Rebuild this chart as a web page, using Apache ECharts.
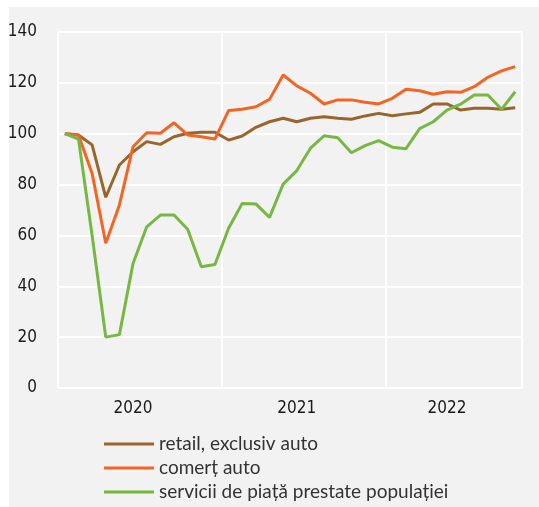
<!DOCTYPE html>
<html>
<head>
<meta charset="utf-8">
<script src="https://cdn.jsdelivr.net/npm/echarts@6/dist/echarts.min.js"></script>
<style>
html, body { margin: 0; padding: 0; background: #fff; }
#c { width: 539px; height: 507px; }
</style>
</head>
<body>
<div id="c"></div>
<script>
// luni: ian 2020 - oct 2022
var months = [
  '2020-01', '2020-02', '2020-03', '2020-04', '2020-05', '2020-06',
  '2020-07', '2020-08', '2020-09', '2020-10', '2020-11', '2020-12',
  '2021-01', '2021-02', '2021-03', '2021-04', '2021-05', '2021-06',
  '2021-07', '2021-08', '2021-09', '2021-10', '2021-11', '2021-12',
  '2022-01', '2022-02', '2022-03', '2022-04', '2022-05', '2022-06',
  '2022-07', '2022-08', '2022-09', '2022-10'
]
var yearLabelIdx = [5, 17, 28]
var yearSplitIdx = [0, 12, 24]

var retail = [
  100, 99.5, 95.6, 75.0, 87.7, 92.9, 96.9, 95.8, 98.8, 100.2, 100.6, 100.6,
  97.5, 99.1, 102.5, 104.7, 106.1, 104.7, 106.1, 106.7, 106.1, 105.7, 107.0, 108.0,
  107.1, 107.8, 108.4, 111.7, 111.7, 109.3, 110.0, 110.0, 109.6, 110.2
]
var comertAuto = [
  100, 99.5, 84.4, 56.9, 72.0, 94.9, 100.4, 100.2, 104.3, 99.5, 98.8, 97.9,
  109.1, 109.6, 110.6, 113.5, 123.1, 118.8, 115.9, 111.7, 113.3, 113.3, 112.4, 111.7,
  113.9, 117.5, 116.9, 115.5, 116.5, 116.3, 118.5, 122.2, 124.7, 126.4
]
var servicii = [
  100, 97.9, 60.0, 20.0, 21.0, 49.0, 63.4, 68.0, 68.0, 62.4, 47.7, 48.6,
  62.8, 72.6, 72.4, 67.1, 80.2, 85.5, 94.3, 99.2, 98.4, 92.5, 95.3, 97.3,
  94.7, 94.1, 102.0, 104.7, 109.3, 111.6, 115.2, 115.2, 109.6, 116.5
]

var axisFont = 'DejaVu Sans Condensed, Roboto, sans-serif'

var chart = echarts.init(document.getElementById('c'))

function lineSeries(name, data, color) {
  return {
    type: 'line',
    name: name,
    data: data,
    symbol: 'none',
    smooth: false,
    lineStyle: { width: 3, color: color },
    itemStyle: { color: color }
  }
}

var option = {
  animation: false,
  backgroundColor: '#fff',
  graphic: [
    {
      type: 'rect',
      z: -10,
      silent: true,
      shape: { x: 9, y: 7, width: 530, height: 500 },
      style: { fill: '#f2f2f2' }
    }
  ],
  grid: { left: 58, right: 17, top: 32, bottom: 119 },
  legend: {
    orient: 'vertical',
    left: 104,
    top: 434,
    padding: 0,
    icon: 'rect',
    itemWidth: 50,
    itemHeight: 3,
    itemGap: 4,
    textStyle: { fontFamily: 'Lato', fontSize: 19, lineHeight: 20, color: '#333' },
    data: ['retail, exclusiv auto', 'comerț auto', 'servicii de piață prestate populației']
  },
  xAxis: {
    type: 'category',
    data: months,
    boundaryGap: true,
    axisLine: { show: false },
    axisTick: { show: false },
    axisLabel: {
      interval: function (i) { return yearLabelIdx.indexOf(i) >= 0 },
      formatter: function (v) { return v.slice(0, 4) },
      margin: 12,
      fontFamily: axisFont,
      fontSize: 17,
      color: '#1a1a1a'
    },
    splitLine: {
      show: true,
      interval: function (i) { return yearSplitIdx.indexOf(i) >= 0 },
      lineStyle: { color: '#fff', width: 2 }
    }
  },
  yAxis: {
    type: 'value',
    min: 0,
    max: 140,
    interval: 20,
    axisLine: { show: false },
    axisTick: { show: false },
    axisLabel: {
      margin: 21,
      fontFamily: axisFont,
      fontSize: 17,
      color: '#1a1a1a'
    },
    splitLine: { lineStyle: { color: '#fff', width: 2 } }
  },
  series: [
    lineSeries('retail, exclusiv auto', retail, '#9a652c'),
    lineSeries('comerț auto', comertAuto, '#f26522'),
    lineSeries('servicii de piață prestate populației', servicii, '#77b843')
  ]
}

chart.setOption(option)
</script>
</body>
</html>
